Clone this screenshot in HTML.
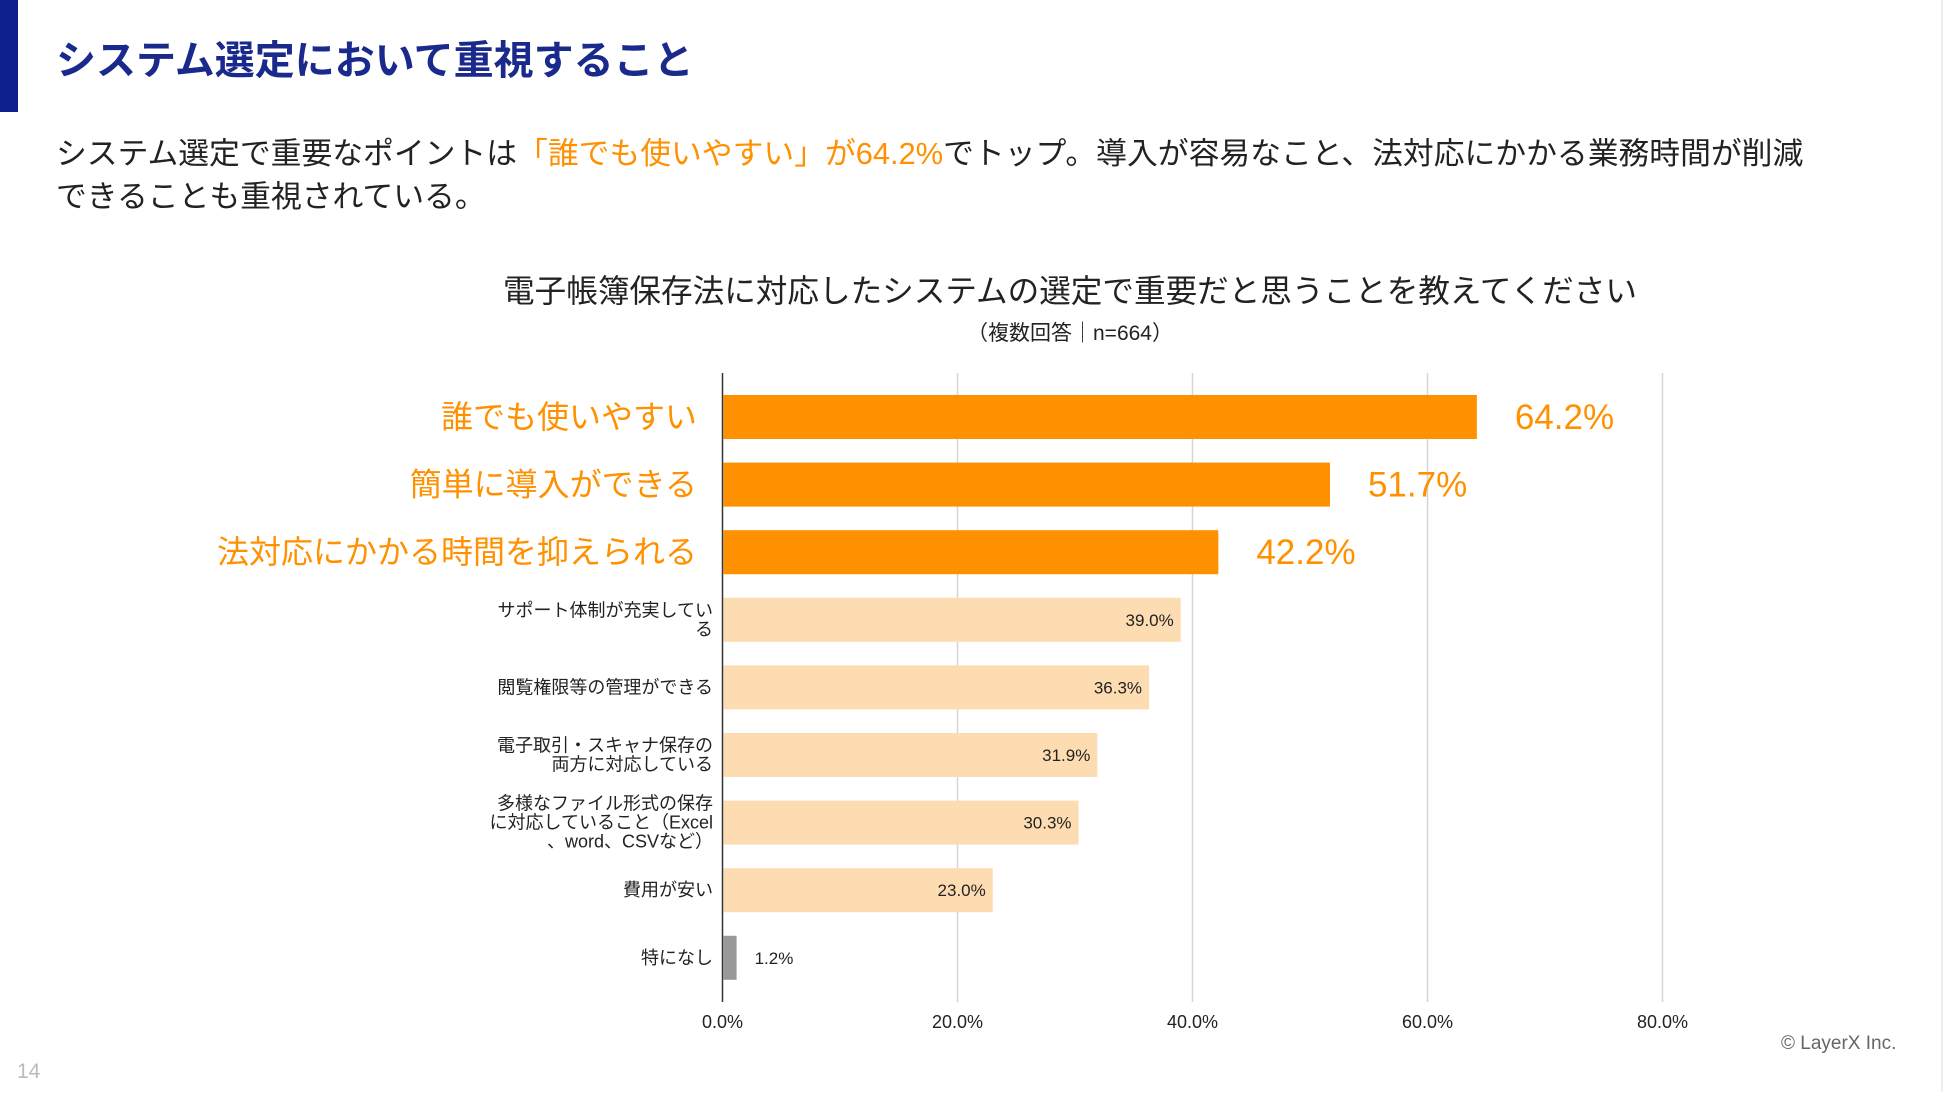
<!DOCTYPE html>
<html><head><meta charset="utf-8"><style>
html,body{margin:0;padding:0;background:#fff;}
body{width:1950px;height:1092px;overflow:hidden;position:relative;font-family:"Liberation Sans","Noto Sans CJK JP",sans-serif;}
</style></head><body>
<svg id="chart" width="1950" height="1092" xmlns="http://www.w3.org/2000/svg" style="font-family:'Liberation Sans','Noto Sans CJK JP',sans-serif">
<rect x="0" y="0" width="18" height="112" fill="#0d1f8c"/>
<text x="56" y="74" font-size="40" font-weight="bold" fill="#1a2a8c">システム選定において重視すること</text>
<text x="56" y="164" font-size="30.8" fill="#222">システム選定で重要なポイントは<tspan fill="#ff9000">「誰でも使いやすい」が64.2%</tspan>でトップ。導入が容易なこと、法対応にかかる業務時間が削減</text>
<text x="56" y="207" font-size="30.8" fill="#222">できることも重視されている。</text>
<text x="1070" y="302" font-size="31.6" fill="#222" text-anchor="middle">電子帳簿保存法に対応したシステムの選定で重要だと思うことを教えてください</text>
<text x="1070" y="340" font-size="21" fill="#222" text-anchor="middle">（複数回答｜n=664）</text>
<g id="grid"></g><g id="bars"></g>
<text x="1781" y="1049" font-size="19" fill="#666">© LayerX Inc.</text>
<text x="17" y="1078" font-size="21" fill="#bbb">14</text>
<line x1="1942" y1="0" x2="1942" y2="1092" stroke="#eee" stroke-width="2"/>
</svg>
<script>
const categories = [["誰でも使いやすい"],["簡単に導入ができる"],["法対応にかかる時間を抑えられる"],["サポート体制が充実してい","る"],["閲覧権限等の管理ができる"],["電子取引・スキャナ保存の","両方に対応している"],["多様なファイル形式の保存","に対応していること（Excel","、word、CSVなど）"],["費用が安い"],["特になし"]];
const values = [64.2,51.7,42.2,39.0,36.3,31.9,30.3,23.0,1.2];
const tiers = ["top","top","top","mid","mid","mid","mid","mid","none"];
const ticks = [0,20,40,60,80];
const NS="http://www.w3.org/2000/svg";
const x0=722.5, pxPer=235/20, y0=395, pitch=67.6, bh=44, gTop=373, gBot=1002;
const X=v=>x0+v*pxPer;
function el(t,a,p,txt){const e=document.createElementNS(NS,t);for(const k in a)e.setAttribute(k,a[k]);if(txt!==undefined)e.textContent=txt;p.appendChild(e);return e;}
const grid=document.getElementById('grid'), bars=document.getElementById('bars');
ticks.forEach(t=>{
  if(t>0){const l=el('line',{x1:X(t),x2:X(t),y1:gTop,y2:gBot,stroke:'#d6d6d6','stroke-width':1.5},grid);
  
  }
  const tx=el('text',{x:X(t),y:1028,'font-size':18,fill:'#222','text-anchor':'middle'},grid,t.toFixed(1)+'%');
  
  
});
const ax=el('line',{x1:x0,x2:x0,y1:gTop,y2:gBot,stroke:'#333','stroke-width':1.5},grid);


values.forEach((v,i)=>{
  const y=y0+i*pitch, cy=y+bh/2, tier=tiers[i];
  const fill=tier==='top'?'#ff9000':tier==='mid'?'#fddcb2':'#999';
  const r=el('rect',{x:x0+1,y:y,width:Math.max(0,X(v)-x0-1),height:bh,fill:fill},bars);
  
  
  let vl;
  if(tier==='top'){
    vl=el('text',{x:X(v)+38,y:cy+12,'font-size':35,fill:'#ff9000'},bars,v.toFixed(1)+'%');
  } else if(tier==='mid'){
    vl=el('text',{x:X(v)-7,y:cy+6,'font-size':17,fill:'#222','text-anchor':'end'},bars,v.toFixed(1)+'%');
  } else {
    vl=el('text',{x:X(v)+18,y:cy+6,'font-size':17,fill:'#222'},bars,v.toFixed(1)+'%');
  }
  
  
  const lines=categories[i];
  let lab;
  if(tier==='top'){
    lab=el('text',{x:697,y:cy+11,'font-size':32,fill:'#ff9000','text-anchor':'end'},bars,lines[0]);
  } else {
    const lh=19, start=cy-(lines.length-1)*lh/2+6;
    lab=el('text',{x:713,y:start,'font-size':18,fill:'#222','text-anchor':'end'},bars);
    lines.forEach((s,j)=>{el('tspan',{x:713,y:start+j*lh},lab,s);});
  }
  
  
});
</script>
</body></html>
